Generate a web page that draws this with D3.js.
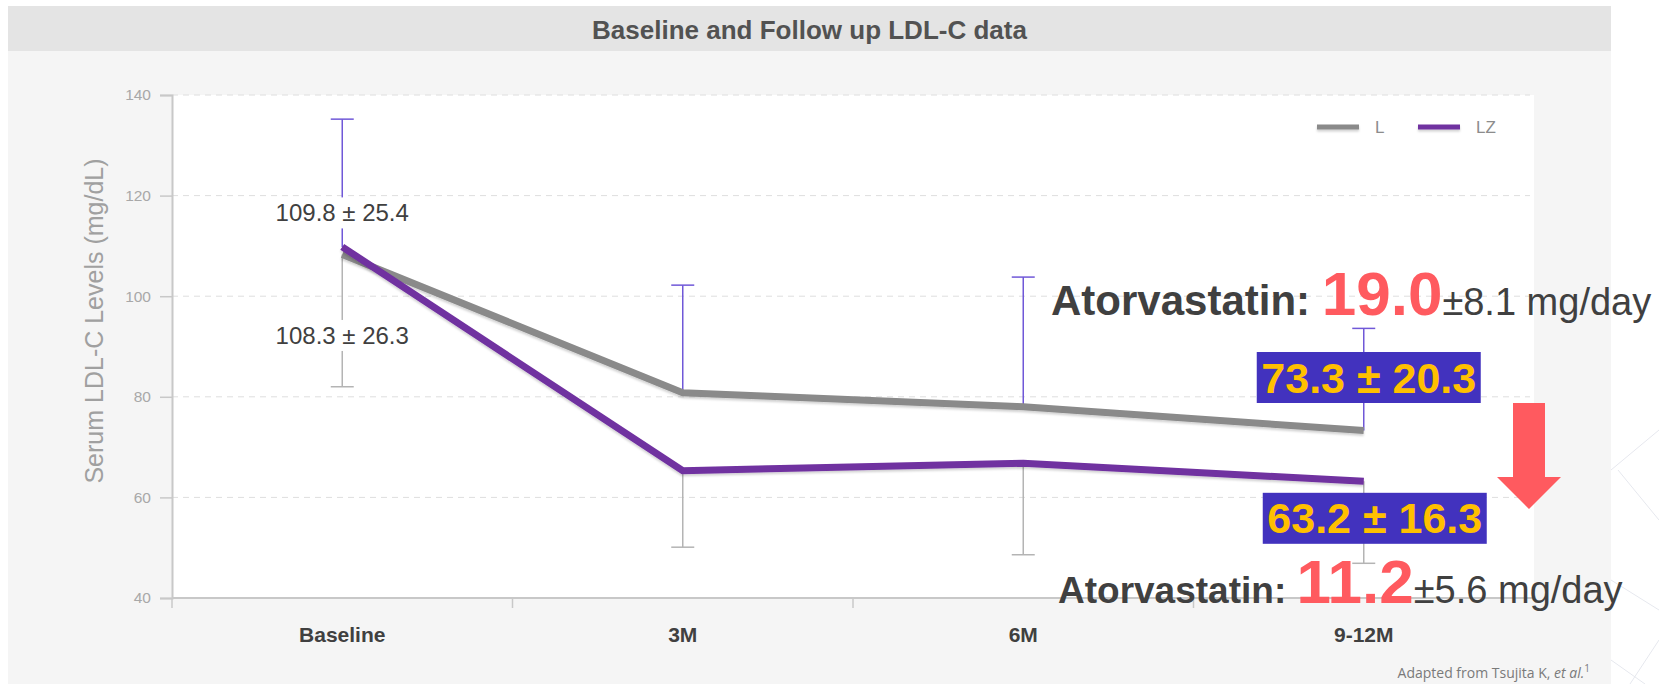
<!DOCTYPE html>
<html>
<head>
<meta charset="utf-8">
<script src="https://cdn.jsdelivr.net/npm/d3@7"></script>
<style>
  html, body { margin: 0; padding: 0; background: #ffffff; }
  svg { display: block; font-family: "Liberation Sans", Arial, sans-serif; }
</style>
</head>
<body>
<svg id="chart" width="1659" height="684"></svg>
<script>
// ---- data ----
const categories = ["Baseline", "3M", "6M", "9-12M"];
const seriesNames = ["L", "LZ"];
const valuesL  = [108.3, 80.8, 78.0, 73.3];
const valuesLZ = [109.8, 65.3, 66.8, 63.2];
// whisker lengths: upper whisker sits on the higher series, lower on the lower one
const errUpper = [25.4, 21.4, 25.8, 20.3];
const errLower = [26.3, 15.2, 18.2, 16.3];
const yTicks = [40, 60, 80, 100, 120, 140];
const doses = [
  { label: "Atorvastatin: ", mean: "19.0", sd: "±8.1 mg/day" },
  { label: "Atorvastatin: ", mean: "11.2", sd: "±5.6 mg/day" }
];

// ---- layout ----
const svg = d3.select("#chart");
const W = 1659, H = 684;
const plot = { left: 172, right: 1534, top: 95, bottom: 598 };

const colL = "#8a8a8a", colLZ = "#7030a0";
const colErrUp = "#7058d8", colErrDown = "#b4b4b4";
const red = "#ff5a5f";

const x = d3.scaleBand().domain(categories).range([plot.left, plot.right]).padding(0);
const cx = c => x(c) + x.bandwidth() / 2;
const y = d3.scaleLinear().domain([40, 140]).range([plot.bottom, plot.top]);

// soft drop shadow under the lines (user-space region so flat strokes keep it)
const defs = svg.append("defs");
const f = defs.append("filter").attr("id", "shadow").attr("filterUnits", "userSpaceOnUse")
  .attr("x", 0).attr("y", 0).attr("width", W).attr("height", H);
f.append("feDropShadow").attr("dx", 0).attr("dy", 2).attr("stdDeviation", 1.2)
  .attr("flood-color", "#000").attr("flood-opacity", 0.18);

// panel backgrounds
svg.append("rect").attr("x", 8).attr("y", 6).attr("width", 1603).attr("height", H - 6).attr("fill", "#f5f5f5");
svg.append("rect").attr("x", 8).attr("y", 6).attr("width", 1603).attr("height", 45).attr("fill", "#e4e4e4");
svg.append("text").attr("x", 809.5).attr("y", 39).attr("text-anchor", "middle")
  .attr("font-size", 26).attr("font-weight", "bold").attr("fill", "#525252")
  .text("Baseline and Follow up LDL-C data");

// faint decorative facets at the right edge
const deco = svg.append("g").attr("stroke", "#e6e8ee").attr("stroke-width", 1).attr("fill", "none");
[[1611, 470, 1659, 430], [1618, 470, 1659, 520], [1611, 580, 1659, 610], [1630, 684, 1659, 640], [1611, 660, 1645, 684]]
  .forEach(d => deco.append("line").attr("x1", d[0]).attr("y1", d[1]).attr("x2", d[2]).attr("y2", d[3]));

// plot area
svg.append("rect").attr("x", plot.left).attr("y", plot.top)
  .attr("width", plot.right - plot.left).attr("height", plot.bottom - plot.top).attr("fill", "#ffffff");

// gridlines
svg.append("g").selectAll("line").data(yTicks.filter(t => t > 40)).join("line")
  .attr("x1", plot.left).attr("x2", plot.right - 4)
  .attr("y1", d => y(d)).attr("y2", d => y(d))
  .attr("stroke", "#dedede").attr("stroke-width", 1).attr("stroke-dasharray", "6,5");

// y axis
const yAxis = svg.append("g").attr("transform", `translate(${plot.left},0)`)
  .call(d3.axisLeft(y).tickValues(yTicks).tickSize(12).tickPadding(9));
yAxis.select(".domain").attr("stroke", "#c8c8c8").attr("stroke-width", 2);
yAxis.selectAll(".tick line").attr("stroke", "#c8c8c8").attr("stroke-width", 1.5);
yAxis.selectAll(".tick text").attr("fill", "#a8a8a8").attr("font-size", 15.5)
  .attr("font-family", "'Liberation Sans', Arial, sans-serif");

svg.append("text").attr("transform", `translate(103,321) rotate(-90)`)
  .attr("text-anchor", "middle").attr("font-size", 25).attr("fill", "#a0a0a0")
  .text("Serum LDL-C Levels (mg/dL)");

// x axis
const xAxis = svg.append("g").attr("transform", `translate(0,${plot.bottom})`)
  .call(d3.axisBottom(x).tickSize(0).tickPadding(29));
xAxis.select(".domain").attr("stroke", "#c8c8c8").attr("stroke-width", 2).attr("d", `M${plot.left},0H${plot.right}`);
xAxis.selectAll(".tick text").attr("fill", "#404040").attr("font-size", 21).attr("font-weight", "bold")
  .attr("font-family", "'Liberation Sans', Arial, sans-serif");
const bounds = categories.map(c => x(c));
xAxis.append("g").selectAll("line").data(bounds).join("line")
  .attr("x1", d => d).attr("x2", d => d).attr("y1", 0).attr("y2", 10)
  .attr("stroke", "#c8c8c8").attr("stroke-width", 1.5);

// error whiskers
const hi = categories.map((c, i) => Math.max(valuesL[i], valuesLZ[i]));
const lo = categories.map((c, i) => Math.min(valuesL[i], valuesLZ[i]));
const capW = 11.5;
const whisk = svg.append("g");
categories.forEach((c, i) => {
  const xc = cx(c);
  const top = hi[i] + errUpper[i], bot = lo[i] - errLower[i];
  whisk.append("line").attr("x1", xc).attr("x2", xc).attr("y1", y(hi[i])).attr("y2", y(top))
    .attr("stroke", colErrUp).attr("stroke-width", 1.5);
  whisk.append("line").attr("x1", xc - capW).attr("x2", xc + capW).attr("y1", y(top)).attr("y2", y(top))
    .attr("stroke", colErrUp).attr("stroke-width", 1.5);
  whisk.append("line").attr("x1", xc).attr("x2", xc).attr("y1", y(lo[i])).attr("y2", y(bot))
    .attr("stroke", colErrDown).attr("stroke-width", 1.5);
  whisk.append("line").attr("x1", xc - capW).attr("x2", xc + capW).attr("y1", y(bot)).attr("y2", y(bot))
    .attr("stroke", colErrDown).attr("stroke-width", 1.5);
});

// series lines
const line = d3.line().x((d, i) => cx(categories[i])).y(d => y(d));
svg.append("path").datum(valuesL).attr("d", line).attr("fill", "none")
  .attr("stroke", colL).attr("stroke-width", 7).attr("filter", "url(#shadow)");
svg.append("path").datum(valuesLZ).attr("d", line).attr("fill", "none")
  .attr("stroke", colLZ).attr("stroke-width", 7).attr("filter", "url(#shadow)");

// legend
const legend = svg.append("g");
[[seriesNames[0], colL, 1317], [seriesNames[1], colLZ, 1418]].forEach(([name, col, lx]) => {
  legend.append("line").attr("x1", lx).attr("x2", lx + 42).attr("y1", 127).attr("y2", 127)
    .attr("stroke", col).attr("stroke-width", 5).attr("filter", "url(#shadow)");
  legend.append("text").attr("x", lx + 58).attr("y", 133).attr("font-size", 17)
    .attr("fill", "#8c8c8c").text(name);
});

// baseline value labels (white backing breaks the whiskers)
const fmt = (m, s) => `${m.toFixed(1)} ± ${s.toFixed(1)}`;
function plainLabel(xc, yc, txt) {
  const g = svg.append("g");
  const t = g.append("text").attr("x", xc).attr("y", yc + 8.5).attr("text-anchor", "middle")
    .attr("font-size", 24).attr("fill", "#404040").text(txt);
  const bb = t.node().getBBox();
  g.insert("rect", "text").attr("x", bb.x - 4).attr("y", yc - 15.5).attr("width", bb.width + 8)
    .attr("height", 31).attr("fill", "#ffffff");
}
plainLabel(cx(categories[0]), y(valuesLZ[0]) - 34, fmt(valuesLZ[0], errUpper[0]));
plainLabel(cx(categories[0]), y(valuesL[0]) + 81, fmt(valuesL[0], errLower[0]));

// end-point labels in filled boxes
function boxLabel(xc, yc, txt) {
  const g = svg.append("g");
  const t = g.append("text").attr("x", xc).attr("y", yc + 15).attr("text-anchor", "middle")
    .attr("font-size", 43).attr("font-weight", "bold").attr("fill", "#ffc000").text(txt);
  const bb = t.node().getBBox();
  g.insert("rect", "text").attr("x", xc - 112).attr("y", yc - 25.5).attr("width", 224)
    .attr("height", 51).attr("fill", "#4232be");
}
const last = categories.length - 1;
boxLabel(cx(categories[last]) + 5, y(valuesL[last]) - 53, fmt(valuesL[last], errUpper[last]));
boxLabel(cx(categories[last]) + 11, y(valuesLZ[last]) + 37, fmt(valuesLZ[last], errLower[last]));

// red arrow
const ax0 = 1529;
svg.append("path").attr("fill", red)
  .attr("d", `M${ax0 - 16},403 H${ax0 + 16} V477 H${ax0 + 32} L${ax0},509 L${ax0 - 32},477 H${ax0 - 16} Z`);

// atorvastatin dose callouts
function doseText(x0, yBase, d, labelSize, big, small) {
  const t = svg.append("text").attr("x", x0).attr("y", yBase).attr("fill", "#404040");
  t.append("tspan").attr("font-size", labelSize).attr("font-weight", "bold").text(d.label);
  t.append("tspan").attr("font-size", big).attr("font-weight", "bold").attr("fill", red).text(d.mean);
  t.append("tspan").attr("font-size", small).text(d.sd);
}
doseText(1051, 315, doses[0], 42, 62, 38);
doseText(1058, 603, doses[1], 37, 62, 38);

// source note
const note = svg.append("text").attr("x", 1590).attr("y", 678).attr("text-anchor", "end")
  .attr("font-family", "'Open Sans', sans-serif").attr("font-size", 14).attr("fill", "#7a7a7a");
note.append("tspan").text("Adapted from Tsujita K, ");
note.append("tspan").attr("font-style", "italic").text("et al.");
note.append("tspan").attr("font-size", 10).attr("dy", -6).text("1");
</script>
</body>
</html>
